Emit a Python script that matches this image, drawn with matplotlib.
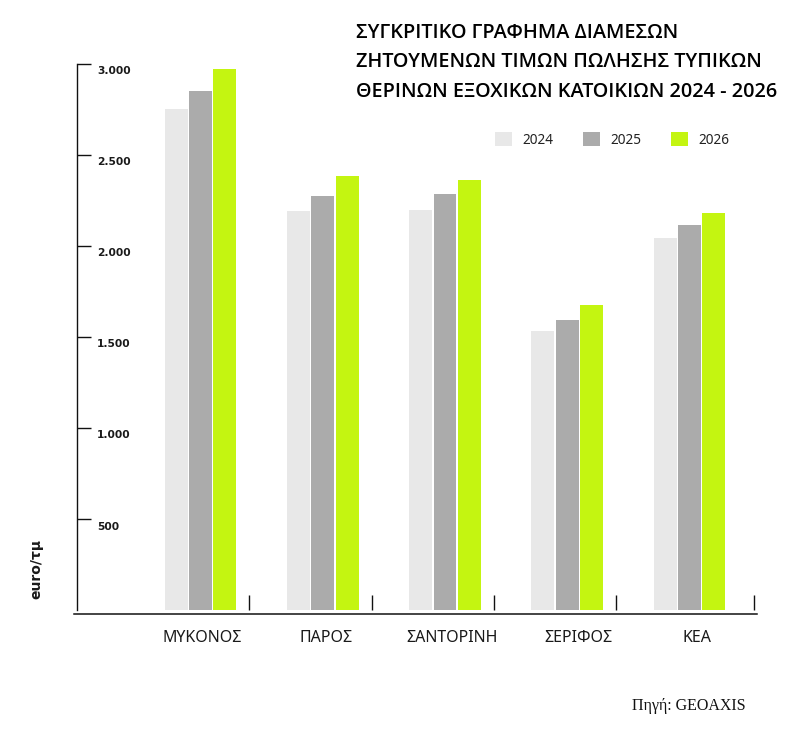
import matplotlib
matplotlib.use("Agg")
import matplotlib.pyplot as plt
import matplotlib.transforms as mtransforms
from matplotlib.lines import Line2D
import numpy as np

categories = ["ΜΥΚΟΝΟΣ", "ΠΑΡΟΣ", "ΣΑΝΤΟΡΙΝΗ", "ΣΕΡΙΦΟΣ", "ΚΕΑ"]
years = ["2024", "2025", "2026"]
values_2024 = [2750, 2190, 2200, 1535, 2045]
values_2025 = [2850, 2275, 2285, 1595, 2115]
values_2026 = [2970, 2385, 2365, 1675, 2180]
series = [values_2024, values_2025, values_2026]
colors = ["#E8E8E8", "#ABABAB", "#C4F511"]
yticks = [500, 1000, 1500, 2000, 2500, 3000]
ytick_labels = ["500", "1.000", "1.500", "2.000", "2.500", "3.000"]
title_lines = ["ΣΥΓΚΡΙΤΙΚΟ ΓΡΑΦΗΜΑ ΔΙΑΜΕΣΩΝ",
               "ΖΗΤΟΥΜΕΝΩΝ ΤΙΜΩΝ ΠΩΛΗΣΗΣ ΤΥΠΙΚΩΝ",
               "ΘΕΡΙΝΩΝ ΕΞΟΧΙΚΩΝ ΚΑΤΟΙΚΙΩΝ 2024 - 2026"]
ylabel = "euro/τμ"
source = "Πηγή: GEOAXIS"

# layout: small label shifts as in the original
label_shift = np.array([0.015, 0.027, 0.061, 0.092, 0.061])

W, H = 804, 738
fig = plt.figure(figsize=(W / 100, H / 100), dpi=100)
ax_left, ax_right, ax_top, ax_bot = 76.7, 754.3, 64, 610
ax = fig.add_axes([ax_left / W, 1 - ax_bot / H, (ax_right - ax_left) / W, (ax_bot - ax_top) / H])

x = np.arange(len(categories))
bw = 0.188
offs = [-0.2, 0.0, 0.2]
handles = []
for s, c, o, yl in zip(series, colors, offs, years):
    b = ax.bar(x + o, s, width=bw, color=c, label=yl, zorder=2)
    handles.append(b)

ax.set_xlim(-1.0127, 4.530)
ax.set_ylim(0, 3000)

for sp in ["top", "right", "bottom"]:
    ax.spines[sp].set_visible(False)
ax.spines["left"].set_linewidth(1.0)
ax.spines["left"].set_color("#111111")

ax.set_yticks(yticks)
ax.tick_params(axis="y", direction="in", length=10, width=1.0, colors="#111111", labelleft=False)
ax.set_xticks(x + label_shift)
ax.set_xticklabels(categories, fontsize=11.5, family="Noto Sans", color="#1a1a1a")
ax.tick_params(axis="x", which="major", length=0, pad=14.5)
ax.set_xticks([0.4, 1.4, 2.4, 3.4, 4.528], minor=True)
ax.tick_params(axis="x", which="minor", direction="in", length=10.5, width=1.0, color="#111111")

# y tick labels placed right of the ticks, slightly below
off = mtransforms.ScaledTranslation(0, -7.5 / 100, fig.dpi_scale_trans)
tr = mtransforms.blended_transform_factory(ax.transAxes, ax.transData) + off
for v, lab in zip(yticks, ytick_labels):
    ax.text((97 - ax_left) / (ax_right - ax_left), v, lab, transform=tr, ha="left", va="center",
            fontsize=7.7, family="DejaVu Sans", fontweight="bold", color="#1a1a1a")

# baseline axis line slightly below the bars
fig.add_artist(Line2D([74 / W, 757 / W], [1 - 614 / H, 1 - 614 / H], color="#111111", lw=1.1))

# title
for i, (t, yb) in enumerate(zip(title_lines, [38.3, 66.7, 97.3])):
    fig.text(356 / W, 1 - yb / H, t, ha="left", va="baseline", fontsize=14.3,
             family="Open Sans", fontweight="semibold", color="#000000")

# legend
leg = fig.legend(handles=handles, labels=years, loc="center left",
                 bbox_to_anchor=(495 / W, 1 - 140 / H), ncol=3, frameon=False,
                 prop={"family": "Noto Sans", "size": 9.8},
                 handlelength=1.24, handleheight=1.17, handletextpad=0.8,
                 columnspacing=2.15, borderpad=0, borderaxespad=0)
for t in leg.get_texts():
    t.set_color("#222222")

fig.text(36 / W, 1 - 569 / H, ylabel, rotation=90, ha="center", va="center",
         fontsize=10, family="DejaVu Sans", fontweight="bold", color="#1a1a1a")
fig.text(746 / W, 1 - 706 / H, source, ha="right", va="center", fontsize=11.5,
         family="Liberation Serif", color="#111111")

fig.savefig("out.png", dpi=100)
